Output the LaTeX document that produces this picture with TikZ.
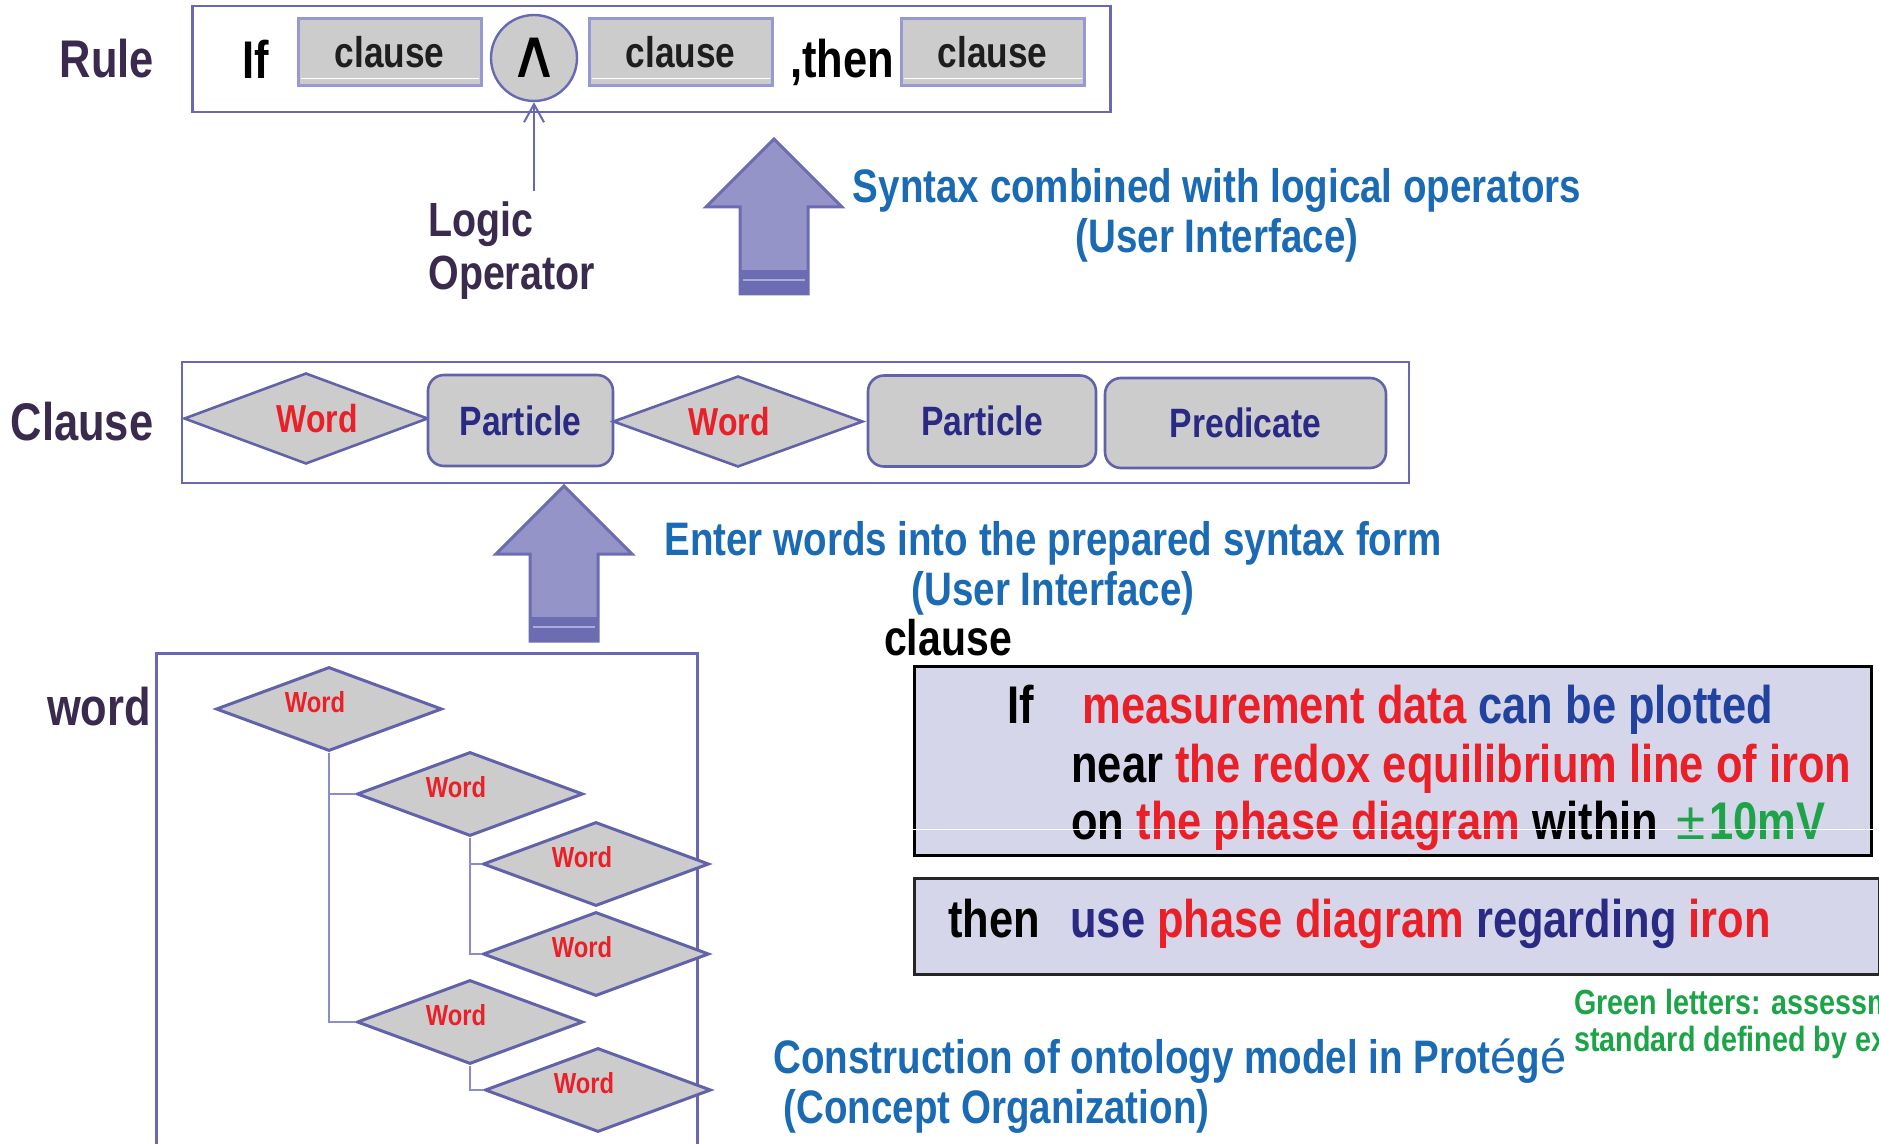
\documentclass[tikz,border=0pt]{standalone}
\usepackage{fontspec}
\setmainfont{Liberation Sans}[FakeStretch=0.82]
\newfontfamily\lightfont{Liberation Sans}
\newfontfamily\symfont{DejaVu Sans}
\usepackage{tikz}
\usetikzlibrary{shapes.geometric,arrows.meta,positioning}
\usepackage{xcolor}
\definecolor{labelc}{RGB}{58,42,78}
\definecolor{framec}{RGB}{104,104,180}
\definecolor{slotc}{RGB}{152,152,212}
\definecolor{diac}{RGB}{98,98,170}
\definecolor{treec}{RGB}{140,140,204}
\definecolor{boxgray}{RGB}{204,204,204}
\definecolor{arrowc}{RGB}{148,148,200}
\definecolor{arrowedge}{RGB}{108,108,178}
\definecolor{bandline}{RGB}{172,172,216}
\definecolor{uiblue}{RGB}{26,106,180}
\definecolor{cred}{RGB}{234,32,40}
\definecolor{cnavy}{RGB}{42,42,132}
\definecolor{cblue}{RGB}{34,66,160}
\definecolor{cgreen}{RGB}{30,164,72}
\definecolor{condc}{RGB}{214,214,234}
\definecolor{ink}{RGB}{30,30,30}

\begin{document}
\begin{tikzpicture}[
    x=0.5pt, y=-0.5pt,
    lbl/.style={font=\bfseries\fontsize{26.5}{30}\selectfont, text=labelc, inner sep=0pt, anchor=base},
    frame/.style={draw=framec, line width=1.3pt, inner sep=0pt},
    slot/.style={draw=slotc, fill=boxgray, line width=1.5pt, minimum width=91.5pt, minimum height=33.5pt,
                 inner sep=0pt, font=\bfseries\fontsize{21.5}{24}\selectfont, text=ink},
    opcirc/.style={circle, draw=framec, fill=boxgray, line width=1.2pt, minimum size=43pt, inner sep=0pt},
    opline/.style={-{Straight Barb[length=9pt,width=10pt]}, draw=framec, line width=1pt},
    bigword/.style={diamond, aspect=2.7, draw=diac, fill=boxgray, line width=1.3pt, inner sep=0pt, minimum height=45.5pt,
                    text=cred, font=\bfseries\fontsize{19.5}{21}\selectfont},
    part/.style={rectangle, rounded corners=8pt, draw=diac, fill=boxgray, line width=1.3pt, inner sep=0pt,
                 minimum height=45.5pt, text=cnavy, font=\bfseries\fontsize{20.5}{22}\selectfont},
    word/.style={diamond, aspect=2.7, draw=diac, fill=boxgray, line width=1.5pt, inner sep=0pt, minimum width=113pt,
                 minimum height=42pt, text=cred, font=\bfseries\fontsize{14.5}{16}\selectfont,
                 text depth=7pt, execute at end node=\hspace*{14pt}},
    tree/.style={draw=treec, line width=1.1pt},
    bigarrow/.style={fill=arrowc, draw=arrowedge, line width=1.5pt, line join=miter},
    note/.style={text=uiblue, font=\bfseries\fontsize{23.5}{25}\selectfont, inner sep=0pt},
    cond/.style={draw=black, fill=condc, line width=1.4pt, inner sep=0pt, anchor=north west},
    condtxt/.style={font=\bfseries\fontsize{26.5}{29}\selectfont, inner sep=0pt, anchor=base west}
]
\useasboundingbox (0,0) rectangle (1879,1144);
\clip (0,0) rectangle (1879,1144);

% Rule row
\node[lbl] (rule) at (107,78) {Rule};
\node[frame, minimum width=459pt, minimum height=53pt] (rulebox) at (651.5,59) {};
\node[lbl, text=black] (ifkw) at (256,79) {If};
\node[slot] (c1) at (389.5,52.5) {clause};
\node[opcirc] (and) at (534,58) {\symfont\fontsize{34}{36}\selectfont ∧};
\node[slot] (c2) at (680.5,52.5) {clause};
\node[lbl, text=black] (thenkw) at (842,78) {,then};
\node[slot] (c3) at (992.5,52.5) {clause};
\foreach \s in {c1,c2,c3} {
  \draw[white, line width=0.6pt] ([xshift=2pt,yshift=4.5pt]\s.south west) -- ([xshift=-2pt,yshift=4.5pt]\s.south east);
}

% Logic operator
\node[lbl, anchor=north west, align=left, font=\bfseries\fontsize{24}{26.5}\selectfont] (logic) at (428,201) {Logic\\Operator};
\coordinate (opfoot) at (534,191);
\draw[opline] (opfoot) -- (and.south);

% Big arrows
\foreach \tx/\ty in {774/139, 564/486} {
  \draw[bigarrow] (\tx,\ty) -- (\tx+68,\ty+68) -- (\tx+34,\ty+68) -- (\tx+34,\ty+155)
        -- (\tx-34,\ty+155) -- (\tx-34,\ty+68) -- (\tx-68,\ty+68) -- cycle;
  \fill[arrowedge] (\tx-35,\ty+131) rectangle (\tx+35,\ty+156);
  \draw[bandline, line width=1pt] (\tx-31,\ty+141) -- (\tx+31,\ty+141);
}

\node[note, align=center] (syntax) at (1217,215.5) {Syntax combined with logical operators\\(User Interface)};
\node[note, align=center] (enter) at (1053,568) {Enter words into the prepared syntax form\\(User Interface)};

% Clause row
\node[lbl] (clause) at (82,441) {Clause};
\node[frame, minimum width=613.5pt, minimum height=60.5pt] (clausebox) at (795.5,422.5) {};
\node[bigword, minimum width=122pt] (cw1) at (306,418.5) {\hspace*{11pt}Word};
\node[part, minimum width=92.5pt] (cp1) at (520.5,420.5) {Particle};
\node[bigword, minimum width=125pt] (cw2) at (738,421.5) {Word\hspace*{9pt}};
\node[part, minimum width=114pt] (cp2) at (982,421) {Particle};
\node[part, minimum width=140.5pt, minimum height=45pt] (pred) at (1245.5,423) {Predicate};

% Word tree
\node[lbl] (wordlbl) at (99,725) {word};
\node[frame, anchor=north west, minimum width=270.5pt, minimum height=260pt] (wordbox) at (155,652) {};
\node[word] (w1) at (329,709) {Word};
\node[word] (w2) at (470,794) {Word};
\node[word] (w3) at (596,864) {Word};
\node[word] (w4) at (596,954) {Word};
\node[word] (w5) at (470,1022) {Word};
\node[word] (w6) at (598,1090) {Word};
\foreach \a/\b in {w1/w2, w1/w5, w2/w3, w2/w4, w5/w6} {
  \draw[tree] (\a.south) |- (\b.west);
}

\node[note, align=left, anchor=north west] (onto) at (773,1038)
  {Construction of ontology model in Prot{\lightfont\mdseries é}g{\lightfont\mdseries é}\\\hspace*{5pt}(Concept Organization)};

% Clause example
\node[lbl, text=black, font=\bfseries\fontsize{25}{27}\selectfont] (clauseex) at (948,655) {clause};
\node[cond, minimum width=478.5pt, minimum height=94.5pt] (ifbox) at (913,665) {};
\node[condtxt] (ifw) at (1007,723) {If};
\node[condtxt] (cond1) at (1082,723) {\textcolor{cred}{measurement data} \textcolor{cblue}{can be plotted}};
\node[condtxt] (cond2) at (1071,782) {near \textcolor{cred}{the redox equilibrium line of iron}};
\node[condtxt] (cond3) at (1071,839) {on \textcolor{cred}{the phase diagram} within \textcolor{cgreen}{\hspace*{3pt}{\lightfont\mdseries ±}\hspace*{2pt}10mV}};
\draw[white, line width=0.5pt] (ifbox.west |- 0,829) -- (ifbox.east |- 0,829);

\node[cond, draw=black!85, minimum width=482.5pt, minimum height=48pt] (thenbox) at (913,877) {};
\node[condtxt] (thenw) at (948,937) {then};
\node[condtxt] (act) at (1070,937) {\textcolor{cnavy}{use} \textcolor{cred}{phase diagram} \textcolor{cnavy}{regarding} \textcolor{cred}{iron}};

\node[align=left, anchor=north west, inner sep=0pt, text=cgreen, font=\bfseries\fontsize{17.5}{18.5}\selectfont] (green) at (1574,989)
  {Green letters: assessment\\standard defined by experts};

\end{tikzpicture}
\end{document}
